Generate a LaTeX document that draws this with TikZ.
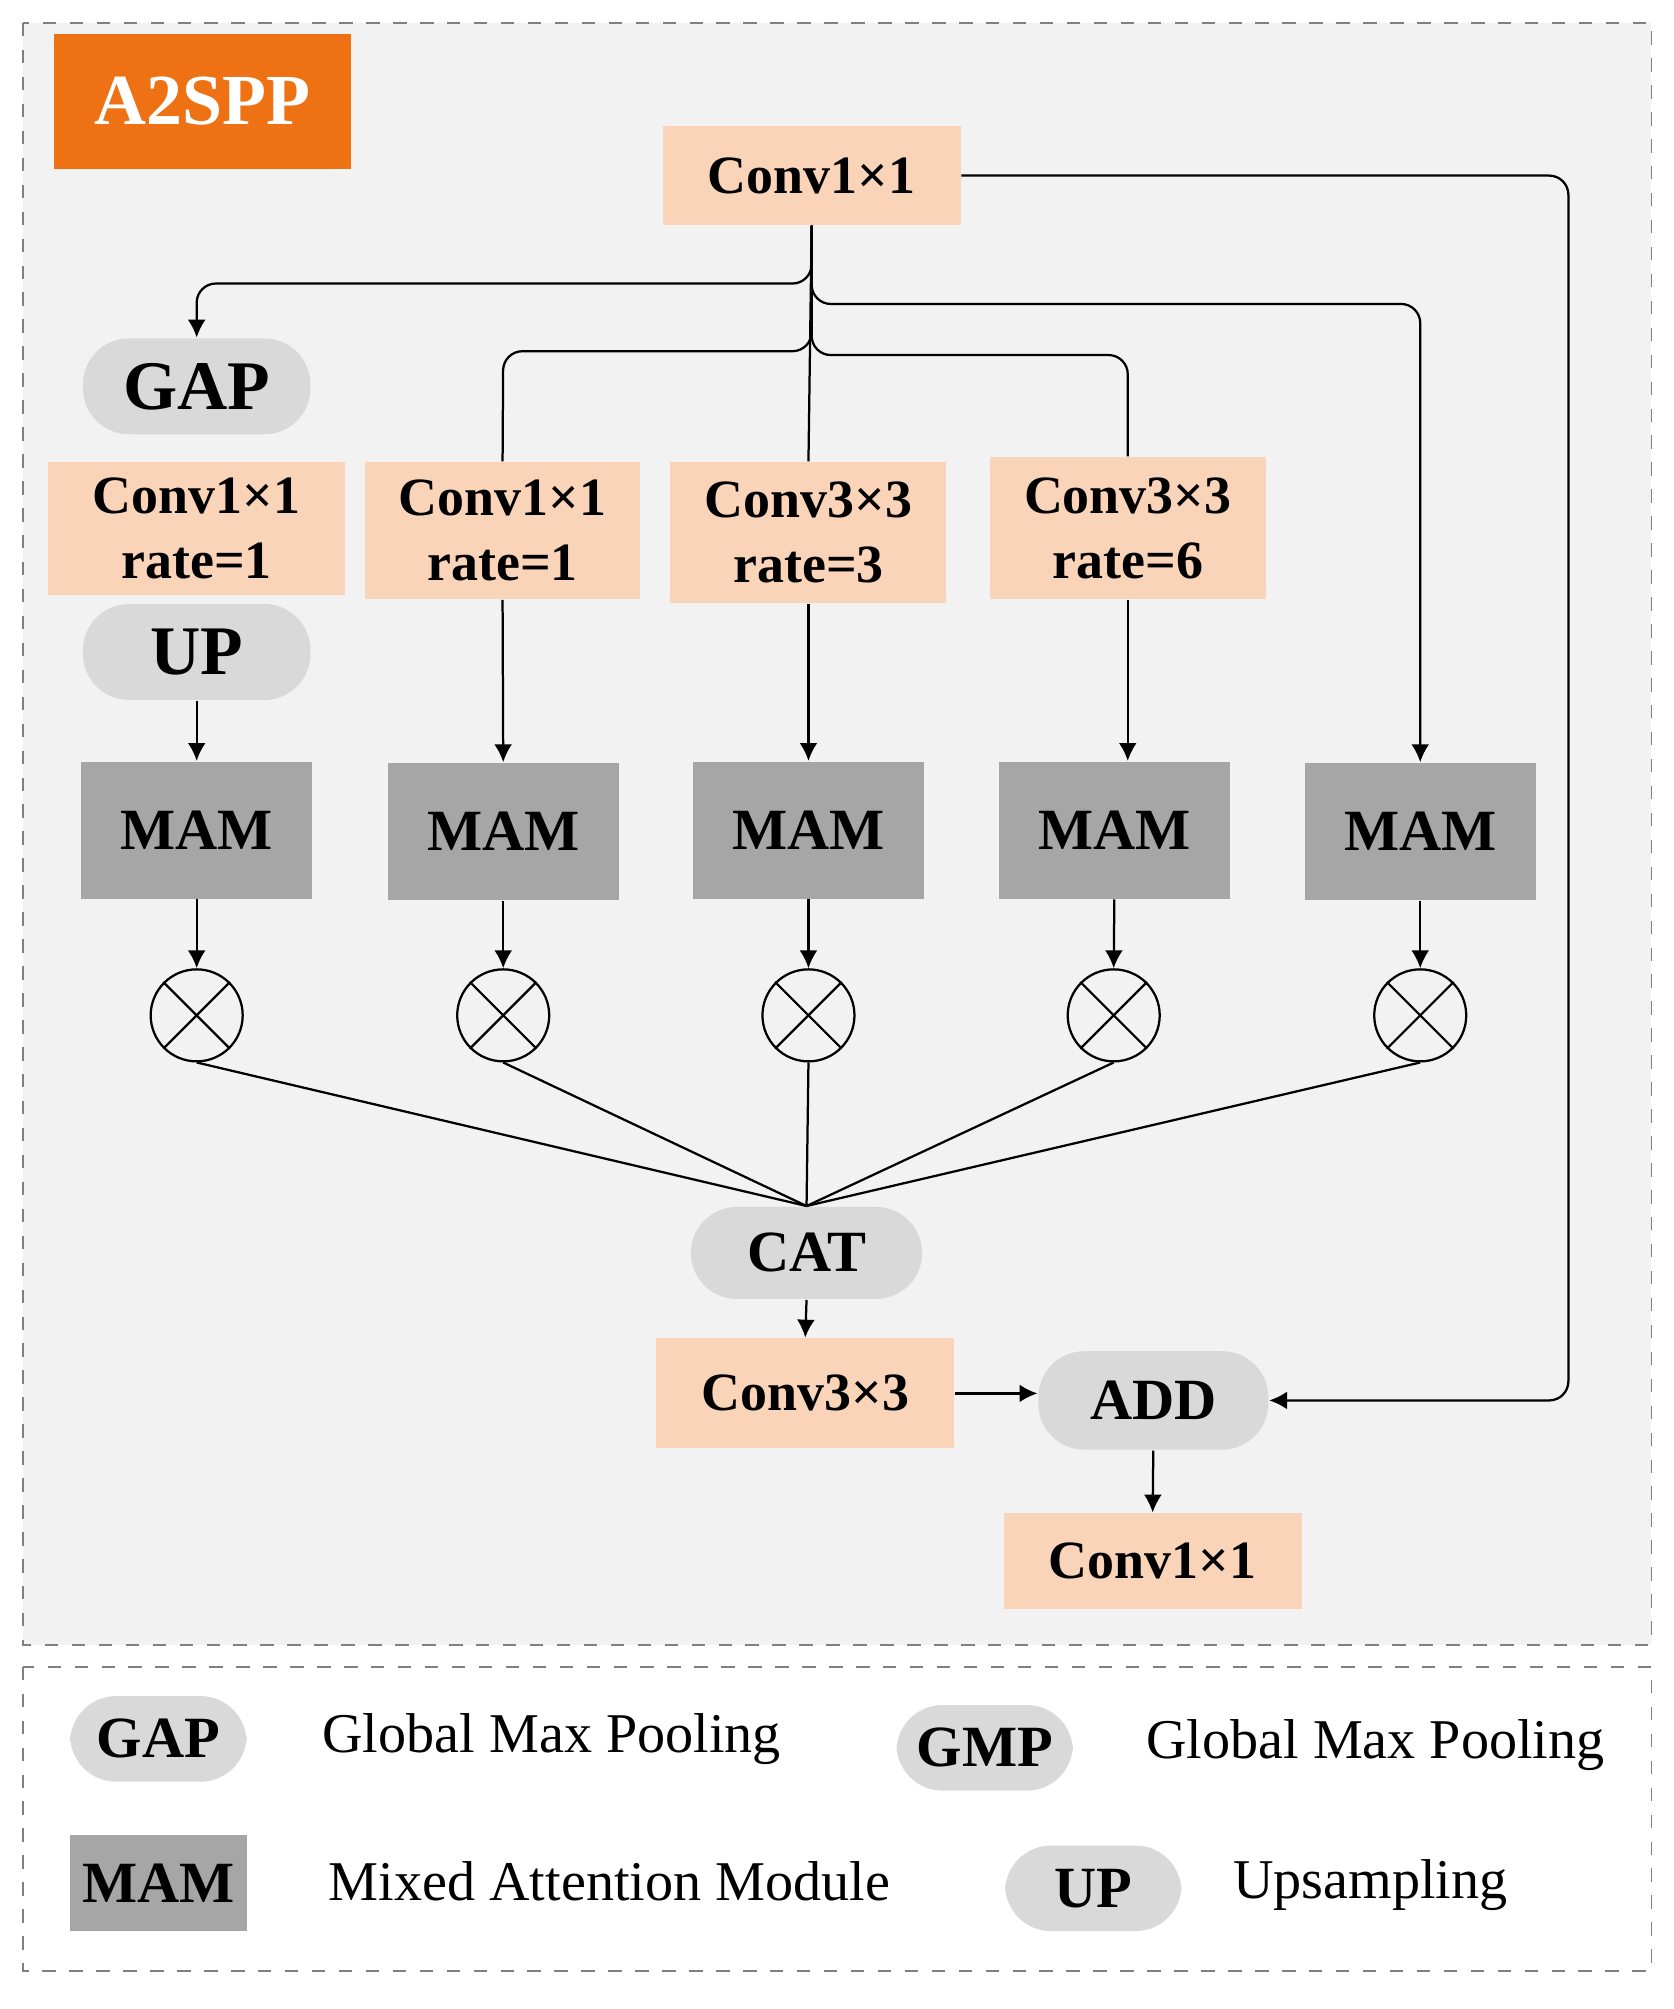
\documentclass[tikz,border=0pt]{standalone}
\usepackage{fontspec}
\setmainfont{Liberation Serif}
\usetikzlibrary{arrows.meta}
\definecolor{peach}{HTML}{FAD4B8}
\definecolor{pill}{HTML}{D9D9D9}
\definecolor{mam}{HTML}{A6A6A6}
\definecolor{bg}{HTML}{F2F2F2}
\definecolor{org}{HTML}{EE7214}
\begin{document}
\begin{tikzpicture}[x=0.01cm,y=-0.01cm,
  box/.style={fill=peach,inner sep=0pt,align=center,font=\fontsize{12}{14.5}\selectfont\bfseries},
  pil/.style={fill=pill,rounded corners=0.36cm,inner sep=0pt,font=\fontsize{13}{16}\selectfont\bfseries},
  mm/.style={fill=mam,inner sep=0pt,minimum width=1.81cm,minimum height=1.07cm,font=\fontsize{13}{16}\selectfont\bfseries},
  ox/.style={circle,draw,fill=bg,minimum size=0.72cm,inner sep=0pt,line width=0.5pt},
  ln/.style={line width=0.5pt},
  arr/.style={ln,-{Latex[length=1.4mm,width=1.4mm]}},
  lg/.style={anchor=west,font=\fontsize{12.5}{15}\selectfont}]
\useasboundingbox (0,0) rectangle (1310,1573);
\draw[dashed,fill=bg,draw=gray] (18,18) rectangle (1293,1288);
\draw[dashed,draw=gray] (18,1305) rectangle (1293,1543);
\node[fill=org,text=white,minimum width=2.33cm,minimum height=1.05cm,font=\fontsize{16}{19}\selectfont\bfseries] (title) at (158.5,79.5) {A2SPP};
\node[box,minimum width=2.33cm,minimum height=0.77cm] (conv0) at (635.5,137.5) {Conv1×1};
\node[pil,minimum width=1.78cm,minimum height=0.75cm,font=\fontsize{15.5}{18}\selectfont\bfseries] (gap) at (154,302.5) {GAP};
\node[box,minimum width=2.32cm,minimum height=1.04cm] (b1) at (154,414) {Conv1×1\\rate=1};
\node[box,minimum width=2.15cm,minimum height=1.07cm] (b2) at (393.5,415.5) {Conv1×1\\rate=1};
\node[box,minimum width=2.16cm,minimum height=1.10cm] (b3) at (633,417) {Conv3×3\\rate=3};
\node[box,minimum width=2.16cm,minimum height=1.11cm] (b4) at (883,413.5) {Conv3×3\\rate=6};
\node[pil,minimum width=1.78cm,minimum height=0.75cm,font=\fontsize{15.5}{18}\selectfont\bfseries] (up) at (154,510.5) {UP};
\node[mm] (m1) at (154,650) {MAM};
\node[mm] (m2) at (394,651) {MAM};
\node[mm] (m3) at (633,650) {MAM};
\node[mm] (m4) at (872.5,650) {MAM};
\node[mm] (m5) at (1112,651) {MAM};
\foreach \i/\x in {1/154,2/394,3/633,4/872,5/1112}{
  \node[ox] (c\i) at (\x,795) {};
  \draw[ln] (c\i.north west)--(c\i.south east) (c\i.north east)--(c\i.south west);
  \draw[arr] (m\i.south) -- (c\i.north);
}
\node[pil,minimum width=1.81cm,minimum height=0.72cm] (cat) at (631.5,981) {CAT};
\node[box,minimum width=2.33cm,minimum height=0.86cm] (conv3) at (630.5,1091) {Conv3×3};
\node[pil,minimum width=1.80cm,minimum height=0.77cm] (add) at (903,1096.5) {ADD};
\node[box,minimum width=2.33cm,minimum height=0.75cm] (convf) at (902.5,1222.5) {Conv1×1};
\foreach \i in {1,...,5}{\draw[ln] (c\i.south) -- (cat.north);}
\draw[arr,rounded corners=0.15cm] (conv0.south) |- (154,222) -- (gap.north);
\draw[ln,rounded corners=0.15cm] (conv0.south) |- (394,275) -- (b2.north);
\draw[ln] (conv0.south) -- (b3.north);
\draw[ln,rounded corners=0.15cm] (conv0.south) |- (883,278) -- (b4.north);
\draw[arr,rounded corners=0.15cm] (conv0.south) |- (1112,238) -- (m5.north);
\draw[arr,rounded corners=0.15cm] (conv0.east) -| (1228,1096.5) -- (add.east);
\draw[arr] (up.south) -- (m1.north);
\draw[arr] (b2.south) -- (m2.north);
\draw[arr] (b3.south) -- (m3.north);
\draw[arr] (b4.south) -- (b4.south |- m4.north);
\draw[arr] (cat.south) -- (conv3.north);
\draw[arr] (conv3.east) -- (conv3.east -| add.west);
\draw[arr] (add.south) -- (convf.north);
% legend
\node[pil,minimum width=1.38cm,minimum height=0.67cm] (lgap) at (124,1361.5) {GAP};
\node[lg] (tgap) at (240,1362) {Global Max Pooling};
\node[pil,minimum width=1.38cm,minimum height=0.67cm] (lgmp) at (771,1368.5) {GMP};
\node[lg] (tgmp) at (885,1366) {Global Max Pooling};
\node[fill=mam,minimum width=1.38cm,minimum height=0.75cm,inner sep=0pt,font=\fontsize{13}{16}\selectfont\bfseries] (lmam) at (124,1474.5) {MAM};
\node[lg] (tmam) at (245,1473) {Mixed Attention Module};
\node[pil,minimum width=1.38cm,minimum height=0.67cm] (lup) at (856,1478.5) {UP};
\node[lg] (tup) at (953,1476) {Upsampling};
\end{tikzpicture}
\end{document}
